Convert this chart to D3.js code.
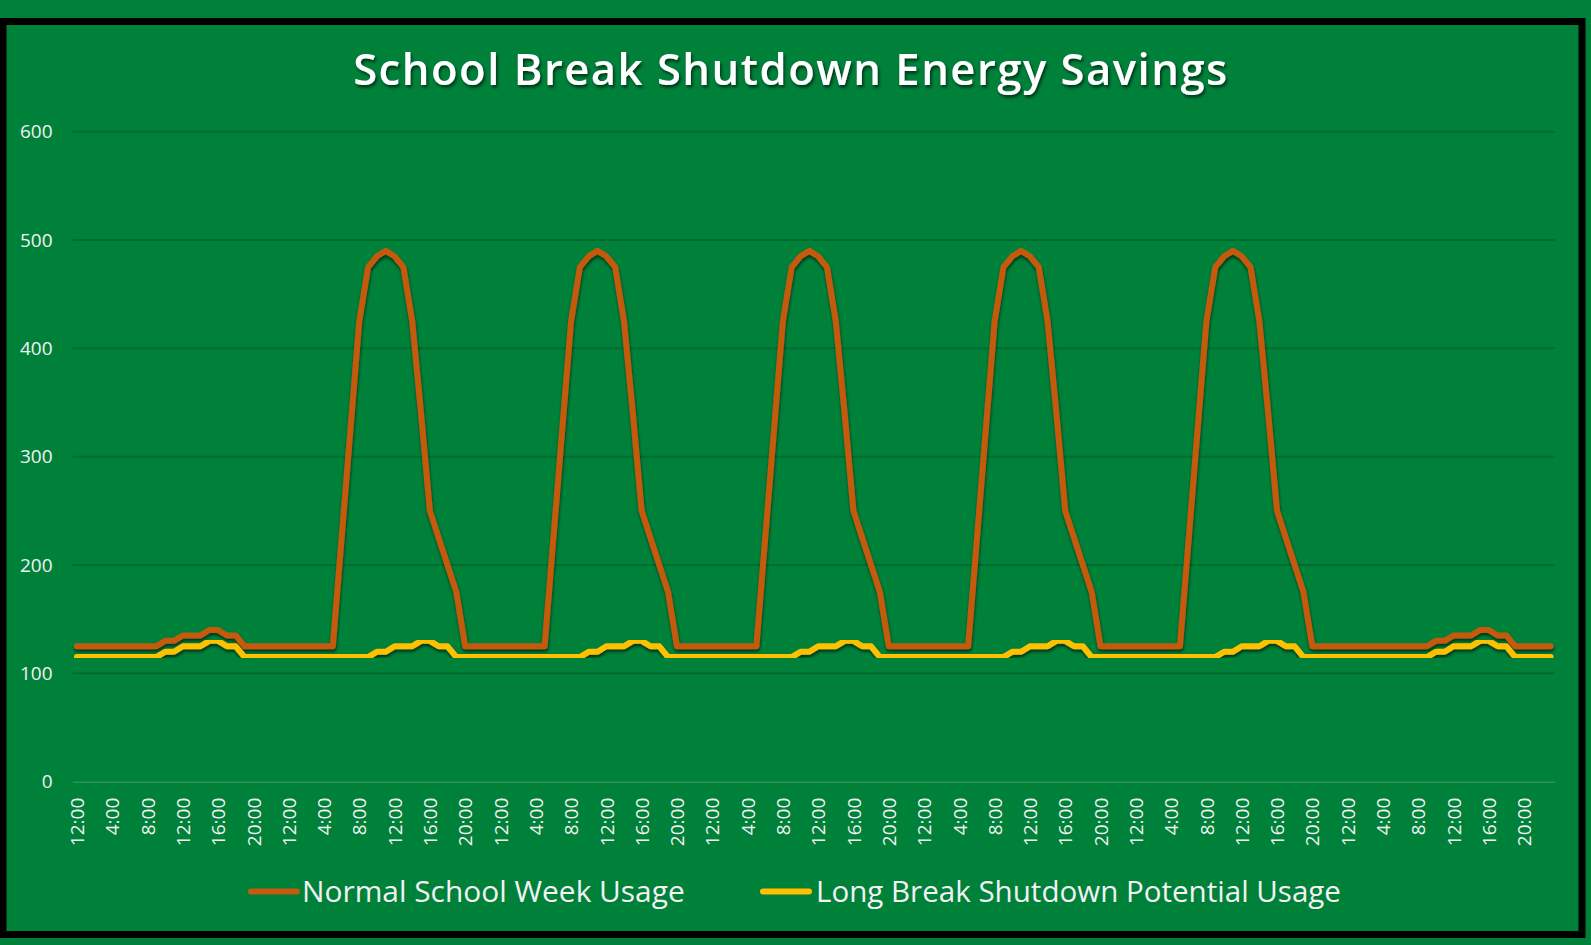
<!DOCTYPE html>
<html>
<head>
<meta charset="utf-8">
<title>School Break Shutdown Energy Savings</title>
<script src="https://cdnjs.cloudflare.com/ajax/libs/d3/7.8.5/d3.min.js"></script>
<style>
	body { margin: 0; background: #00813a; }
	svg { display: block; font-family: "Open Sans", sans-serif; }
</style>
</head>
<body>
<svg id="chart" width="1591" height="945"></svg>
<script>

	// one label per hour, Excel shows every 4th one
	var hourLabels = ["12:00", "1:00", "2:00", "3:00", "4:00", "5:00", "6:00", "7:00", "8:00", "9:00", "10:00", "11:00",
		"12:00", "13:00", "14:00", "15:00", "16:00", "17:00", "18:00", "19:00", "20:00", "21:00", "22:00", "23:00"];
	var dayCount = 7;

	// hourly usage, one row per day
	var normalUsage = [
		125, 125, 125, 125, 125, 125, 125, 125, 125, 125, 130, 130, 135, 135, 135, 140, 140, 135, 135, 125, 125, 125, 125, 125,
		125, 125, 125, 125, 125, 125, 225, 325, 425, 475, 485, 490, 485, 475, 425, 340, 250, 225, 200, 175, 125, 125, 125, 125,
		125, 125, 125, 125, 125, 125, 225, 325, 425, 475, 485, 490, 485, 475, 425, 340, 250, 225, 200, 175, 125, 125, 125, 125,
		125, 125, 125, 125, 125, 125, 225, 325, 425, 475, 485, 490, 485, 475, 425, 340, 250, 225, 200, 175, 125, 125, 125, 125,
		125, 125, 125, 125, 125, 125, 225, 325, 425, 475, 485, 490, 485, 475, 425, 340, 250, 225, 200, 175, 125, 125, 125, 125,
		125, 125, 125, 125, 125, 125, 225, 325, 425, 475, 485, 490, 485, 475, 425, 340, 250, 225, 200, 175, 125, 125, 125, 125,
		125, 125, 125, 125, 125, 125, 125, 125, 125, 125, 130, 130, 135, 135, 135, 140, 140, 135, 135, 125, 125, 125, 125, 125
	];

	var breakUsage = [
		115, 115, 115, 115, 115, 115, 115, 115, 115, 115, 120, 120, 125, 125, 125, 130, 130, 125, 125, 115, 115, 115, 115, 115,
		115, 115, 115, 115, 115, 115, 115, 115, 115, 115, 120, 120, 125, 125, 125, 130, 130, 125, 125, 115, 115, 115, 115, 115,
		115, 115, 115, 115, 115, 115, 115, 115, 115, 115, 120, 120, 125, 125, 125, 130, 130, 125, 125, 115, 115, 115, 115, 115,
		115, 115, 115, 115, 115, 115, 115, 115, 115, 115, 120, 120, 125, 125, 125, 130, 130, 125, 125, 115, 115, 115, 115, 115,
		115, 115, 115, 115, 115, 115, 115, 115, 115, 115, 120, 120, 125, 125, 125, 130, 130, 125, 125, 115, 115, 115, 115, 115,
		115, 115, 115, 115, 115, 115, 115, 115, 115, 115, 120, 120, 125, 125, 125, 130, 130, 125, 125, 115, 115, 115, 115, 115,
		115, 115, 115, 115, 115, 115, 115, 115, 115, 115, 120, 120, 125, 125, 125, 130, 130, 125, 125, 115, 115, 115, 115, 115
	];

	var yTicks = [0, 100, 200, 300, 400, 500, 600];

	var series = [
		{name: "Normal School Week Usage", values: normalUsage, color: "#c55a11"},
		{name: "Long Break Shutdown Potential Usage", values: breakUsage, color: "#ffc000"}
	];

	var categories = [];
	for (var d = 0; d < dayCount; d++) {
		hourLabels.forEach(function(h, i) { categories.push({key: d * 24 + i, label: h}); });
	}

	var svg = d3.select("#chart");
	var plotLeft = 72.5, plotRight = 1555, plotTop = 131.7, plotBottom = 781.7;

	var defs = svg.append("defs");
	defs.append("filter").attr("id", "lineShadow")
		.attr("x", "-5%").attr("y", "-5%").attr("width", "110%").attr("height", "110%")
		.append("feDropShadow")
		.attr("dx", 0.5).attr("dy", 2.5)
		.attr("stdDeviation", 1.8)
		.attr("flood-color", "#000")
		.attr("flood-opacity", 0.6);
	defs.append("filter").attr("id", "textShadow")
		.append("feDropShadow")
		.attr("dx", 1.5).attr("dy", 2.5)
		.attr("stdDeviation", 1.5)
		.attr("flood-color", "#000")
		.attr("flood-opacity", 0.6);

	// black frame
	svg.append("rect")
		.attr("x", 3).attr("y", 21.5)
		.attr("width", 1579).attr("height", 913)
		.attr("fill", "#00813a")
		.attr("stroke", "#000")
		.attr("stroke-width", 7);

	var x = d3.scalePoint()
		.domain(categories.map(function(c) { return c.key; }))
		.range([plotLeft, plotRight])
		.padding(0.5);

	var y = d3.scaleLinear()
		.domain([0, 600])
		.range([plotBottom, plotTop]);

	// gridlines
	svg.append("g").selectAll("line")
		.data(yTicks.filter(function(t) { return t > 0; }))
		.enter().append("line")
		.attr("x1", plotLeft).attr("x2", plotRight)
		.attr("y1", function(t) { return y(t); })
		.attr("y2", function(t) { return y(t); })
		.attr("stroke", "#006d30")
		.attr("stroke-width", 2);

	// y axis labels
	var yAxis = svg.append("g")
		.attr("transform", "translate(" + plotLeft + ",0)")
		.call(d3.axisLeft(y).tickValues(yTicks).tickSize(0).tickPadding(20));
	yAxis.select(".domain").remove();
	yAxis.selectAll("text")
		.attr("fill", "#f2f2f2")
		.style("font-size", "19px")
		.style("font-family", "'Open Sans', sans-serif");

	// x axis
	var xAxis = svg.append("g")
		.attr("transform", "translate(0," + plotBottom + ")")
		.call(d3.axisBottom(x)
			.tickValues(categories.filter(function(c) { return c.key % 4 === 0; }).map(function(c) { return c.key; }))
			.tickFormat(function(k) { return categories[k].label; })
			.tickSize(0)
			.tickSizeOuter(0));
	xAxis.select(".domain")
		.attr("stroke", "#2a9453")
		.attr("stroke-width", 1.5);
	xAxis.selectAll("text")
		.attr("fill", "#f2f2f2")
		.style("font-size", "19px")
		.style("font-family", "'Open Sans', sans-serif")
		.attr("text-anchor", "end")
		.attr("transform", "translate(0,16) rotate(-90)")
		.attr("x", 0).attr("y", 0)
		.attr("dy", "0.35em");

	var line = d3.line()
		.x(function(v, i) { return x(categories[i].key); })
		.y(function(v) { return y(v); });

	svg.append("g").selectAll("path")
		.data(series)
		.enter().append("path")
		.attr("d", function(s) { return line(s.values); })
		.attr("fill", "none")
		.attr("stroke", function(s) { return s.color; })
		.attr("stroke-width", 6)
		.attr("stroke-linejoin", "round")
		.attr("stroke-linecap", "round")
		.attr("filter", "url(#lineShadow)");

	// title
	var title = svg.append("text")
		.attr("x", 791).attr("y", 85)
		.attr("text-anchor", "middle")
		.attr("fill", "#fff")
		.attr("font-weight", 600)
		.attr("letter-spacing", "1.5px")
		.style("font-size", "42px")
		.attr("filter", "url(#textShadow)")
		.text("School Break Shutdown Energy Savings");
	var tw = title.node().getComputedTextLength();
	title.style("font-size", (42 * 878 / tw) + "px");

	// legend
	var legendPos = [{lx: 248, tx: 302, w: 383}, {lx: 760, tx: 816, w: 525}];
	series.forEach(function(s, i) {
		var p = legendPos[i];
		svg.append("line")
			.attr("x1", p.lx + 3).attr("x2", p.lx + 49)
			.attr("y1", 891.5).attr("y2", 891.5)
			.attr("stroke", s.color)
			.attr("stroke-width", 6)
			.attr("stroke-linecap", "round");
		var t = svg.append("text")
			.attr("x", p.tx).attr("y", 901.5)
			.attr("fill", "#f2f2f2")
			.style("font-size", "29px")
			.text(s.name);
		var w = t.node().getComputedTextLength();
		t.style("font-size", (29 * p.w / w) + "px");
	});

</script>
</body>
</html>
